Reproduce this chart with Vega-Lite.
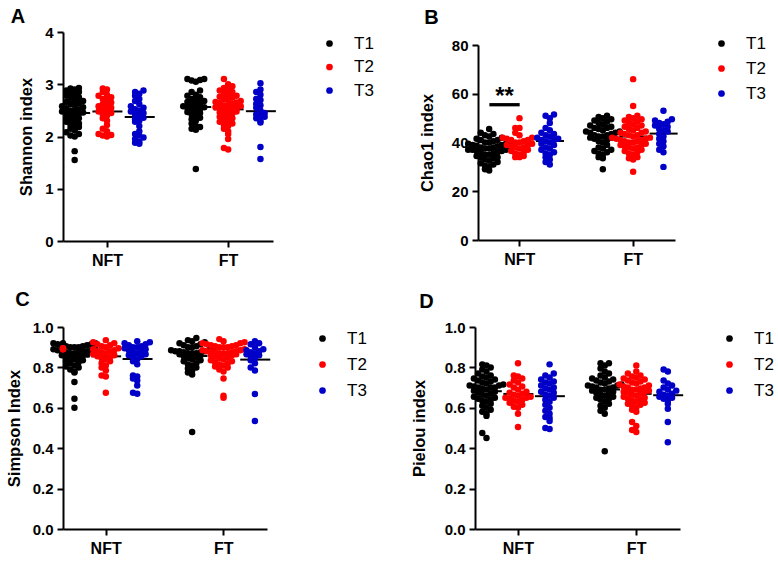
{
  "$schema": "https://vega.github.io/schema/vega-lite/v6.json",
  "background": "white",
  "padding": {"left": 6, "top": 7, "right": 0, "bottom": 0},
  "config": {
    "font": "Liberation Sans",
    "view": {"stroke": null},
    "axis": {"domainColor": "black", "domainWidth": 2, "tickColor": "black", "tickWidth": 2, "tickSize": 6, "labelColor": "black", "labelFont": "Liberation Sans", "labelFontWeight": "bold", "titleFont": "Liberation Sans", "titleFontWeight": "bold", "titleColor": "black", "grid": false},
    "axisY": {"labelFontSize": 15, "titleFontSize": 16.5, "labelPadding": 4, "titlePadding": 10},
    "axisX": {"labelFontSize": 16, "labelPadding": 5, "labelAngle": 0},
    "title": {"anchor": "start", "frame": "bounds", "fontSize": 20, "fontWeight": "bold", "font": "Liberation Sans", "color": "black"},
    "legend": {"labelFont": "Liberation Sans", "labelFontSize": 17, "labelColor": "black", "symbolType": "circle", "symbolSize": 45, "labelOffset": 16}
  },
  "resolve": {"scale": {"color": "independent", "x": "independent", "y": "independent"}, "legend": {"color": "independent"}},
  "spacing": 22,
  "vconcat": [
    {
      "resolve": {"scale": {"color": "independent", "x": "independent", "y": "independent"}, "legend": {"color": "independent"}},
      "spacing": 42,
      "hconcat": [
        {
          "width": 210, "height": 209,
          "title": {"text": "A", "offset": -2, "dx": -8},
          "data": {"values": [
            {"g": "NFT1", "t": "T1", "v": [1.55,1.72,2.0,2.02,2.05,2.08,2.12,2.15,2.18,2.2,2.22,2.25,2.28,2.3,2.32,2.35,2.37,2.4,2.42,2.44,2.45,2.46,2.48,2.5,2.5,2.52,2.54,2.56,2.58,2.6,2.62,2.64,2.66,2.68,2.7,2.72,2.75,2.78,2.8,2.82,2.85,2.88,2.9,2.92,2.93]},
            {"g": "NFT2", "t": "T2", "v": [2.0,2.02,2.03,2.05,2.1,2.15,2.22,2.3,2.35,2.4,2.42,2.45,2.48,2.5,2.52,2.55,2.58,2.6,2.62,2.65,2.7,2.72,2.75,2.78,2.8,2.85,2.9,2.92]},
            {"g": "NFT3", "t": "T3", "v": [1.86,1.88,1.9,1.95,1.98,2.02,2.05,2.1,2.2,2.28,2.3,2.33,2.36,2.4,2.42,2.45,2.48,2.5,2.52,2.55,2.58,2.62,2.68,2.72,2.78,2.82,2.85,2.88]},
            {"g": "FT1", "t": "T1", "v": [1.38,2.13,2.15,2.18,2.2,2.25,2.3,2.33,2.36,2.4,2.42,2.45,2.47,2.5,2.52,2.53,2.55,2.56,2.58,2.6,2.62,2.64,2.66,2.68,2.7,2.72,2.75,2.78,2.8,2.85,2.88,3.05,3.07,3.08,3.1,3.1]},
            {"g": "FT2", "t": "T2", "v": [1.75,1.78,1.95,2.05,2.1,2.15,2.2,2.22,2.25,2.28,2.3,2.32,2.35,2.38,2.4,2.42,2.44,2.46,2.48,2.5,2.5,2.52,2.54,2.55,2.56,2.58,2.6,2.6,2.62,2.64,2.65,2.66,2.68,2.7,2.72,2.74,2.76,2.78,2.8,2.82,2.85,2.88,2.9,2.93,2.96,3.0,3.1]},
            {"g": "FT3", "t": "T3", "v": [1.57,1.8,2.27,2.3,2.35,2.38,2.4,2.42,2.45,2.5,2.55,2.6,2.62,2.7,2.72,2.8,2.85,2.9,3.02]}
          ]},
          "encoding": {
            "x": {"field": "g", "type": "nominal", "scale": {"domain": ["NFT1","s1","s2","s3","NFT2","s4","s5","s6","NFT3","s7","s8","s9","s10","s11","s12","FT1","s13","s14","s15","FT2","s16","s17","s18","FT3"], "paddingInner": 0, "paddingOuter": 2.48}, "axis": {"values": ["NFT2","FT2"], "labelExpr": "datum.value == 'NFT2' ? 'NFT' : 'FT'", "title": null}},
            "y": {"field": "v", "type": "quantitative", "title": "Shannon index", "scale": {"domain": [0, 4], "nice": false}, "axis": {"values": [0,1,2,3,4]}}
          },
          "layer": [
            {"transform": [{"flatten": ["v"]}], "mark": {"type": "tick", "thickness": 2, "size": 30, "color": "black"}, "encoding": {"y": {"aggregate": "mean", "field": "v", "type": "quantitative", "title": "Shannon index"}}},
            {"transform": [{"flatten": ["v"]}, {"bin": {"step": 0.1}, "field": "v", "as": "vb"}, {"window": [{"op": "row_number", "as": "slot"}], "groupby": ["g", "vb"], "sort": [{"field": "v", "order": "ascending"}]}],
             "mark": {"type": "circle", "size": 42, "opacity": 1},
             "encoding": {
               "xOffset": {"field": "slot", "type": "nominal", "scale": {"domain": [10,8,6,4,2,1,3,5,7,9,11], "range": [-19.5, 26.7]}},
               "color": {"field": "t", "type": "nominal", "scale": {"domain": ["T1","T2","T3"], "range": ["#000000","#ff0000","#0000c8"]}, "legend": {"title": null, "offset": 45, "rowPadding": 5.5, "padding": 3}}
             }}
          ]
        },
        {
          "width": 197, "height": 208,
          "title": {"text": "B", "offset": 4, "dx": 5},
          "data": {"values": [
            {"g": "NFT1", "t": "T1", "v": [28.5,29,30,30.5,31,31.5,32,32.5,33,33.5,34,34,34.5,35,35,35.5,36,36,36.5,36.5,37,37,37,37.5,37.5,38,38,38.5,38.5,39,39,39.5,39.5,40,40,40.5,41,41,41.5,42,42.5,43,43.5,44,45.5]},
            {"g": "NFT2", "t": "T2", "v": [34,34,34.5,35,35.5,36,36.5,37,37.5,38,38,38.5,39,39,39.5,40,40,40.5,41,41,41.5,42,42,43,44,46,46,50]},
            {"g": "NFT3", "t": "T3", "v": [31,32,33,34,35,35.5,36,37,37.5,38,39,39.5,40,40.5,41,41,41.5,42,42.5,43,43.5,44,45,46,48,50,51,51.5]},
            {"g": "FT1", "t": "T1", "v": [29,33.5,34,35,35.5,36,36.5,37,37.5,38,39,40,40.5,41,41.5,42,42,42.5,42.5,43,43,43.5,44,44,44.5,44.5,45,45.5,46,46,46.5,47,47.5,48,48.5,49,49.5,50,50.5,51]},
            {"g": "FT2", "t": "T2", "v": [28,33,33.5,34,35,35.5,36,36.5,37,37.5,38,38,38.5,39,39,39.5,40,40,40.5,40.5,41,41,41.5,41.5,42,42,42.5,43,43,43.5,44,44,44.5,45,45.5,46,46.5,47,47.5,48,48.5,49,49.5,50,50.5,51,55,66]},
            {"g": "FT3", "t": "T3", "v": [30,36,37,38.5,39.5,40.5,41.5,42.5,43.5,44.5,45,45.5,46.5,47,47.5,48,48.5,49,49.5,53]}
          ]},
          "encoding": {
            "x": {"field": "g", "type": "nominal", "scale": {"domain": ["NFT1","s1","s2","s3","NFT2","s4","s5","s6","NFT3","s7","s8","s9","s10","s11","s12","FT1","s13","s14","s15","FT2","s16","s17","s18","FT3"], "paddingInner": 0, "paddingOuter": 2.4}, "axis": {"values": ["NFT2","FT2"], "labelExpr": "datum.value == 'NFT2' ? 'NFT' : 'FT'", "title": null}},
            "y": {"field": "v", "type": "quantitative", "title": "Chao1 index", "scale": {"domain": [0, 80], "nice": false, "range": [208, 13]}, "axis": {"values": [0,20,40,60,80], "titlePadding": 16}}
          },
          "layer": [
            {"transform": [{"flatten": ["v"]}], "mark": {"type": "tick", "thickness": 2, "size": 28, "color": "black"}, "encoding": {"y": {"aggregate": "mean", "field": "v", "type": "quantitative", "title": "Chao1 index"}}},
            {"transform": [{"flatten": ["v"]}, {"bin": {"step": 2.5}, "field": "v", "as": "vb"}, {"window": [{"op": "row_number", "as": "slot"}], "groupby": ["g", "vb"], "sort": [{"field": "v", "order": "ascending"}]}],
             "mark": {"type": "circle", "size": 42, "opacity": 1},
             "encoding": {
               "xOffset": {"field": "slot", "type": "nominal", "scale": {"domain": [10,8,6,4,2,1,3,5,7,9,11], "range": [-19.7, 26.5]}},
               "color": {"field": "t", "type": "nominal", "scale": {"domain": ["T1","T2","T3"], "range": ["#000000","#ff0000","#0000c8"]}, "legend": {"title": null, "offset": 35, "rowPadding": 7, "padding": 3}}
             }},
            {"data": {"values": [{"g1": "NFT1", "g2": "NFT2", "gm": "s2", "yv": 55.5, "lab": "**"}]},
             "mark": {"type": "rule", "strokeWidth": 3.3, "color": "black"},
             "encoding": {"x": {"field": "g1", "type": "nominal", "bandPosition": 0.5}, "x2": {"field": "g2", "bandPosition": 0.5}, "y": {"field": "yv", "type": "quantitative", "title": "Chao1 index"}}},
            {"data": {"values": [{"g1": "NFT1", "g2": "NFT2", "gm": "s2", "yv": 55.5, "lab": "**"}]},
             "mark": {"type": "text", "fontSize": 24, "fontWeight": "bold", "baseline": "alphabetic", "dy": -1, "color": "black", "font": "Liberation Sans"},
             "encoding": {"x": {"field": "gm", "type": "nominal"}, "y": {"field": "yv", "type": "quantitative", "title": "Chao1 index"}, "text": {"field": "lab"}}}
          ]
        }
      ]
    },
    {
      "resolve": {"scale": {"color": "independent", "x": "independent", "y": "independent"}, "legend": {"color": "independent"}},
      "spacing": 41,
      "hconcat": [
        {
          "width": 204, "height": 202,
          "title": {"text": "C", "offset": 10, "dx": 9},
          "data": {"values": [
            {"g": "NFT1", "t": "T1", "v": [0.6,0.645,0.728,0.775,0.78,0.79,0.8,0.805,0.81,0.82,0.825,0.83,0.835,0.84,0.845,0.85,0.855,0.86,0.86,0.865,0.87,0.87,0.875,0.875,0.88,0.88,0.88,0.885,0.885,0.89,0.89,0.895,0.895,0.9,0.9,0.9,0.905,0.905,0.91,0.91,0.915,0.915,0.92,0.92,0.92]},
            {"g": "NFT2", "t": "T2", "v": [0.675,0.755,0.76,0.785,0.8,0.81,0.82,0.83,0.84,0.845,0.85,0.855,0.86,0.865,0.87,0.875,0.88,0.88,0.885,0.89,0.895,0.9,0.905,0.91,0.915,0.92,0.925,0.935]},
            {"g": "NFT3", "t": "T3", "v": [0.67,0.675,0.71,0.735,0.745,0.755,0.76,0.815,0.83,0.84,0.85,0.855,0.86,0.865,0.87,0.875,0.88,0.885,0.89,0.895,0.9,0.9,0.905,0.91,0.915,0.92,0.925,0.93]},
            {"g": "FT1", "t": "T1", "v": [0.48,0.765,0.775,0.785,0.795,0.8,0.81,0.815,0.82,0.83,0.835,0.84,0.845,0.85,0.855,0.86,0.865,0.87,0.87,0.87,0.875,0.875,0.88,0.88,0.88,0.885,0.885,0.89,0.89,0.895,0.9,0.9,0.905,0.91,0.915,0.92,0.925,0.93,0.935,0.945]},
            {"g": "FT2", "t": "T2", "v": [0.65,0.66,0.745,0.78,0.79,0.8,0.805,0.81,0.815,0.82,0.825,0.83,0.835,0.84,0.845,0.85,0.855,0.86,0.86,0.865,0.87,0.87,0.87,0.875,0.875,0.88,0.88,0.88,0.885,0.885,0.89,0.89,0.89,0.895,0.895,0.9,0.9,0.9,0.905,0.905,0.91,0.91,0.915,0.92,0.92,0.925,0.93,0.94]},
            {"g": "FT3", "t": "T3", "v": [0.535,0.668,0.785,0.8,0.82,0.835,0.845,0.855,0.86,0.865,0.87,0.875,0.88,0.885,0.89,0.9,0.915,0.92,0.93]}
          ]},
          "encoding": {
            "x": {"field": "g", "type": "nominal", "scale": {"domain": ["NFT1","s1","s2","s3","NFT2","s4","s5","s6","NFT3","s7","s8","s9","s10","s11","s12","FT1","s13","s14","s15","FT2","s16","s17","s18","FT3"], "paddingInner": 0, "paddingOuter": 2.17}, "axis": {"values": ["NFT2","FT2"], "labelExpr": "datum.value == 'NFT2' ? 'NFT' : 'FT'", "title": null}},
            "y": {"field": "v", "type": "quantitative", "title": "Simpson Index", "scale": {"domain": [0, 1], "nice": false}, "axis": {"values": [0,0.2,0.4,0.6,0.8,1], "format": ".1f"}}
          },
          "layer": [
            {"transform": [{"flatten": ["v"]}], "mark": {"type": "tick", "thickness": 2, "size": 30, "color": "black"}, "encoding": {"y": {"aggregate": "mean", "field": "v", "type": "quantitative", "title": "Simpson Index"}}},
            {"transform": [{"flatten": ["v"]}, {"bin": {"step": 0.03}, "field": "v", "as": "vb"}, {"window": [{"op": "row_number", "as": "slot"}], "groupby": ["g", "vb"], "sort": [{"field": "v", "order": "ascending"}]}],
             "mark": {"type": "circle", "size": 42, "opacity": 1},
             "encoding": {
               "xOffset": {"field": "slot", "type": "nominal", "scale": {"domain": [10,8,6,4,2,1,3,5,7,9,11], "range": [-19.5, 26.7]}},
               "color": {"field": "t", "type": "nominal", "scale": {"domain": ["T1","T2","T3"], "range": ["#000000","#ff0000","#0000c8"]}, "legend": {"title": null, "offset": 44, "rowPadding": 8, "padding": 3}}
             }}
          ]
        },
        {
          "width": 205, "height": 202,
          "title": {"text": "D", "offset": 8, "dx": 8},
          "data": {"values": [
            {"g": "NFT1", "t": "T1", "v": [0.45,0.475,0.56,0.57,0.58,0.59,0.6,0.61,0.62,0.63,0.635,0.64,0.645,0.65,0.655,0.66,0.665,0.67,0.675,0.68,0.685,0.69,0.695,0.7,0.7,0.7,0.705,0.71,0.71,0.715,0.72,0.725,0.73,0.735,0.74,0.745,0.75,0.755,0.76,0.77,0.78,0.79,0.8,0.81,0.815]},
            {"g": "NFT2", "t": "T2", "v": [0.505,0.57,0.6,0.605,0.615,0.625,0.63,0.635,0.64,0.645,0.65,0.65,0.655,0.66,0.665,0.67,0.675,0.68,0.69,0.7,0.705,0.715,0.725,0.735,0.745,0.755,0.76,0.82]},
            {"g": "NFT3", "t": "T3", "v": [0.495,0.5,0.535,0.55,0.555,0.57,0.585,0.6,0.615,0.63,0.64,0.65,0.66,0.665,0.675,0.68,0.69,0.695,0.7,0.71,0.72,0.725,0.73,0.74,0.75,0.76,0.77,0.815]},
            {"g": "FT1", "t": "T1", "v": [0.385,0.57,0.585,0.6,0.61,0.62,0.63,0.64,0.645,0.65,0.655,0.66,0.665,0.67,0.675,0.68,0.685,0.69,0.69,0.695,0.7,0.7,0.705,0.71,0.71,0.715,0.72,0.725,0.73,0.735,0.74,0.745,0.75,0.76,0.77,0.78,0.795,0.81,0.82,0.82]},
            {"g": "FT2", "t": "T2", "v": [0.48,0.49,0.51,0.53,0.58,0.59,0.6,0.61,0.615,0.62,0.625,0.63,0.635,0.64,0.645,0.65,0.655,0.66,0.665,0.67,0.675,0.68,0.68,0.685,0.69,0.69,0.695,0.7,0.7,0.705,0.71,0.715,0.72,0.725,0.73,0.735,0.74,0.745,0.75,0.755,0.76,0.77,0.78,0.81]},
            {"g": "FT3", "t": "T3", "v": [0.43,0.53,0.595,0.62,0.635,0.645,0.65,0.655,0.66,0.665,0.67,0.68,0.685,0.69,0.7,0.71,0.72,0.735,0.78,0.79]}
          ]},
          "encoding": {
            "x": {"field": "g", "type": "nominal", "scale": {"domain": ["NFT1","s1","s2","s3","NFT2","s4","s5","s6","NFT3","s7","s8","s9","s10","s11","s12","FT1","s13","s14","s15","FT2","s16","s17","s18","FT3"], "paddingInner": 0, "paddingOuter": 2.5}, "axis": {"values": ["NFT2","FT2"], "labelExpr": "datum.value == 'NFT2' ? 'NFT' : 'FT'", "title": null}},
            "y": {"field": "v", "type": "quantitative", "title": "Pielou index", "scale": {"domain": [0, 1], "nice": false}, "axis": {"values": [0,0.2,0.4,0.6,0.8,1], "format": ".1f", "titlePadding": 17}}
          },
          "layer": [
            {"transform": [{"flatten": ["v"]}], "mark": {"type": "tick", "thickness": 2, "size": 30, "color": "black"}, "encoding": {"y": {"aggregate": "mean", "field": "v", "type": "quantitative", "title": "Pielou index"}}},
            {"transform": [{"flatten": ["v"]}, {"bin": {"step": 0.03}, "field": "v", "as": "vb"}, {"window": [{"op": "row_number", "as": "slot"}], "groupby": ["g", "vb"], "sort": [{"field": "v", "order": "ascending"}]}],
             "mark": {"type": "circle", "size": 42, "opacity": 1},
             "encoding": {
               "xOffset": {"field": "slot", "type": "nominal", "scale": {"domain": [10,8,6,4,2,1,3,5,7,9,11], "range": [-19.6, 26.6]}},
               "color": {"field": "t", "type": "nominal", "scale": {"domain": ["T1","T2","T3"], "range": ["#000000","#ff0000","#0000c8"]}, "legend": {"title": null, "offset": 38, "rowPadding": 8, "padding": 3}}
             }}
          ]
        }
      ]
    }
  ]
}
